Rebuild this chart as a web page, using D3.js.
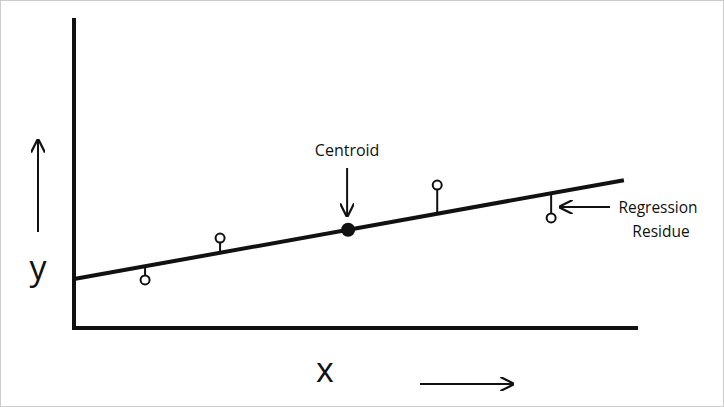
<!DOCTYPE html>
<html><head><meta charset="utf-8">
<script src="https://cdn.jsdelivr.net/npm/d3@7"></script>
<style>body{margin:0;background:#fff}text{font-family:"Open Sans",sans-serif;fill:#111}</style>
</head><body><svg id="c"></svg>
<script>
// observations (arbitrary units)
const obsX = [1.26, 2.59, 6.44, 8.46];
const obsY = [1.55, 2.90, 4.61, 3.55];
const intercept = 1.58, slope = 0.327, lineEnd = 9.75;
const centroid = {x: 4.86, y: 1.58 + 0.327 * 4.86};

const W = 724, H = 407;
const svg = d3.select('#c').attr('width', W).attr('height', H);
svg.append('rect').attr('x', 0.5).attr('y', 0.5).attr('width', W - 1).attr('height', H - 1)
  .attr('fill', 'none').attr('stroke', '#ccc');

const x = d3.scaleLinear().domain([0, 10]).range([74, 638]);
const y = d3.scaleLinear().domain([0, 10]).range([328, 18]);
const fit = v => intercept + slope * v;

svg.append('defs').append('marker').attr('id', 'ah').attr('viewBox', '0 0 10 10')
  .attr('refX', 9).attr('refY', 5).attr('markerWidth', 14).attr('markerHeight', 14)
  .attr('markerUnits', 'userSpaceOnUse').attr('orient', 'auto')
  .append('path').attr('d', 'M0,0L10,5L0,10').attr('fill', 'none').attr('stroke', '#111').attr('stroke-width', 1.6);

// axes
svg.append('path').attr('d', `M${x(0)},${y(10)}V${y(0)}H${x(10)}`)
  .attr('fill', 'none').attr('stroke', '#111').attr('stroke-width', 4);

// regression line
svg.append('line').attr('x1', x(0)).attr('y1', y(fit(0))).attr('x2', x(lineEnd)).attr('y2', y(fit(lineEnd)))
  .attr('stroke', '#111').attr('stroke-width', 4);

const pts = obsX.map((v, i) => ({x: v, y: obsY[i]}));
svg.selectAll('.res').data(pts).join('line').attr('class', 'res')
  .attr('x1', d => x(d.x)).attr('x2', d => x(d.x))
  .attr('y1', d => y(d.y)).attr('y2', d => y(fit(d.x)))
  .attr('stroke', '#111').attr('stroke-width', 2);
svg.selectAll('.pt').data(pts).join('circle').attr('class', 'pt')
  .attr('cx', d => x(d.x)).attr('cy', d => y(d.y)).attr('r', 4.5)
  .attr('fill', '#fff').attr('stroke', '#111').attr('stroke-width', 2);
svg.append('circle').attr('cx', x(centroid.x)).attr('cy', y(centroid.y)).attr('r', 7).attr('fill', '#111');

const arrow = (x1, y1, x2, y2) => svg.append('line').attr('x1', x1).attr('y1', y1).attr('x2', x2).attr('y2', y2)
  .attr('stroke', '#111').attr('stroke-width', 2).attr('marker-end', 'url(#ah)');

// labels
svg.append('text').attr('x', x(centroid.x) - 1).attr('y', 156).attr('text-anchor', 'middle')
  .attr('font-size', 16).attr('font-weight', 500).text('Centroid');
arrow(x(centroid.x) - 1, 168, x(centroid.x) - 1, 216);
svg.append('text').attr('x', 38).attr('y', 280).attr('text-anchor', 'middle').attr('font-size', 34).text('y');
arrow(38, 232, 38, 140);
svg.append('text').attr('x', 325).attr('y', 382).attr('text-anchor', 'middle').attr('font-size', 34).text('x');
arrow(420, 384, 513, 384);
svg.append('text').attr('x', 658).attr('y', 213).attr('text-anchor', 'middle')
  .attr('font-size', 15.5).attr('font-weight', 500).text('Regression');
svg.append('text').attr('x', 661).attr('y', 237).attr('text-anchor', 'middle')
  .attr('font-size', 15.5).attr('font-weight', 500).text('Residue');
arrow(610, 207, 560, 207);
</script></body></html>
